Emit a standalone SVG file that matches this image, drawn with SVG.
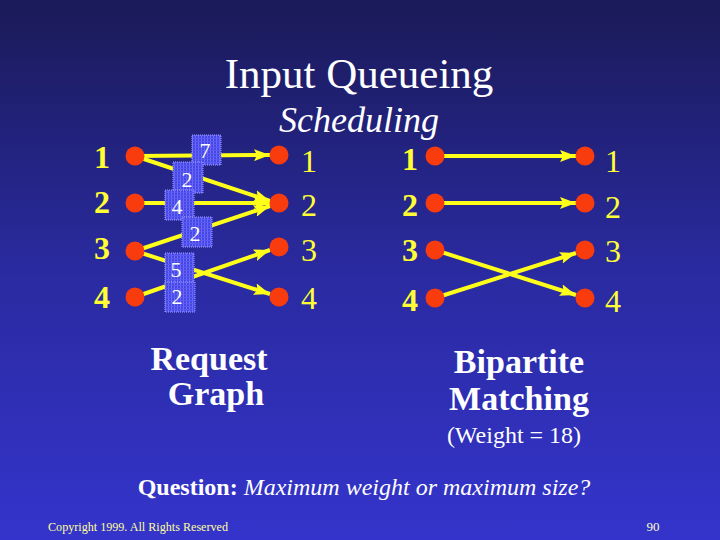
<svg xmlns="http://www.w3.org/2000/svg" width="720" height="540" viewBox="0 0 720 540">
<defs>
<linearGradient id="bg" x1="0" y1="0" x2="0" y2="1">
<stop offset="0" stop-color="#1a1a58"/>
<stop offset="0.5" stop-color="#2a2aa0"/>
<stop offset="1" stop-color="#3434cc"/>
</linearGradient>
<pattern id="stripe" width="3" height="3" patternUnits="userSpaceOnUse">
<rect width="3" height="3" fill="#4646e2"/>
<rect width="1" height="3" fill="#6c6cff"/>
<rect width="3" height="1" fill="#5a5af2"/>
</pattern>
<marker id="ah" viewBox="0 0 16 12" refX="16" refY="6" markerWidth="16" markerHeight="12" markerUnits="userSpaceOnUse" orient="auto">
<path d="M0,0 L16,6 L0,12 L3,6 Z" fill="#ffff1a"/>
</marker>
<style>
.num{font-family:"Liberation Serif",serif;font-size:32px;fill:#ffff33;text-anchor:middle}
.b{font-weight:bold}
.node{fill:#f83c0e}
.edge{stroke:#ffff1a;stroke-width:4;fill:none;marker-end:url(#ah)}
.wbox{fill:url(#stripe);stroke:#a0a0ff;stroke-width:1;stroke-dasharray:1 1}
.wt{font-family:"Liberation Serif",serif;font-size:22px;fill:#ffffff;text-anchor:middle}
.lbl{font-family:"Liberation Serif",serif;font-weight:bold;font-size:34px;fill:#ffffff;text-anchor:middle}
.w{font-family:"Liberation Serif",serif;fill:#ffffff}
</style>
</defs>
<rect width="720" height="540" fill="url(#bg)"/>
<text class="w" x="359" y="88" font-size="43" text-anchor="middle">Input Queueing</text>
<text class="w" x="359" y="132" font-size="36" font-style="italic" text-anchor="middle">Scheduling</text>

<g id="connectors">
<line class="edge" x1="135" y1="156" x2="270" y2="155"/>
<line class="edge" x1="135" y1="156" x2="270" y2="201"/>
<line class="edge" x1="135" y1="203" x2="270" y2="203"/>
<line class="edge" x1="135" y1="251" x2="270" y2="206"/>
<line class="edge" x1="135" y1="251" x2="270" y2="294"/>
<line class="edge" x1="135" y1="297" x2="270" y2="250"/>
<line class="edge" x1="435" y1="156" x2="576" y2="156"/>
<line class="edge" x1="435" y1="203" x2="576" y2="203"/>
<line class="edge" x1="435" y1="250" x2="576" y2="295"/>
<line class="edge" x1="435" y1="298" x2="576" y2="253"/>
</g>

<g id="weights">
<g id="w7"><rect class="wbox" x="192" y="135" width="29" height="30"/><text class="wt" x="205" y="158">7</text></g>
<g id="w2a"><rect class="wbox" x="173" y="162" width="30" height="31"/><text class="wt" x="187" y="187">2</text></g>
<g id="w4"><rect class="wbox" x="165" y="190" width="29" height="30"/><text class="wt" x="177" y="214">4</text></g>
<g id="w2b"><rect class="wbox" x="182" y="217" width="30" height="30"/><text class="wt" x="195" y="241">2</text></g>
<g id="w5"><rect class="wbox" x="165" y="253" width="29" height="30"/><text class="wt" x="176" y="277">5</text></g>
<g id="w2c"><rect class="wbox" x="165" y="282" width="30" height="30"/><text class="wt" x="177" y="304">2</text></g>
</g>

<g id="request-graph">
<g id="rg-in1"><circle class="node" cx="135" cy="156" r="9.5"/><text class="num b" x="102" y="168">1</text></g>
<g id="rg-in2"><circle class="node" cx="135" cy="203" r="9.5"/><text class="num b" x="102" y="213">2</text></g>
<g id="rg-in3"><circle class="node" cx="135" cy="251" r="9.5"/><text class="num b" x="102" y="259">3</text></g>
<g id="rg-in4"><circle class="node" cx="135" cy="297" r="9.5"/><text class="num b" x="102" y="308">4</text></g>
<g id="rg-out1"><circle class="node" cx="279" cy="155" r="9.5"/><text class="num" x="309" y="172">1</text></g>
<g id="rg-out2"><circle class="node" cx="279" cy="203" r="9.5"/><text class="num" x="309" y="216">2</text></g>
<g id="rg-out3"><circle class="node" cx="279" cy="247" r="9.5"/><text class="num" x="309" y="261">3</text></g>
<g id="rg-out4"><circle class="node" cx="279" cy="297" r="9.5"/><text class="num" x="309" y="309">4</text></g>
</g>

<g id="bipartite">
<g id="bm-in1"><circle class="node" cx="435" cy="156" r="9.5"/><text class="num b" x="410" y="170">1</text></g>
<g id="bm-in2"><circle class="node" cx="435" cy="203" r="9.5"/><text class="num b" x="410" y="216">2</text></g>
<g id="bm-in3"><circle class="node" cx="435" cy="250" r="9.5"/><text class="num b" x="410" y="261">3</text></g>
<g id="bm-in4"><circle class="node" cx="435" cy="298" r="9.5"/><text class="num b" x="410" y="311">4</text></g>
<g id="bm-out1"><circle class="node" cx="585" cy="156" r="9.5"/><text class="num" x="613" y="172">1</text></g>
<g id="bm-out2"><circle class="node" cx="585" cy="203" r="9.5"/><text class="num" x="613" y="218">2</text></g>
<g id="bm-out3"><circle class="node" cx="585" cy="250" r="9.5"/><text class="num" x="613" y="262">3</text></g>
<g id="bm-out4"><circle class="node" cx="585" cy="298" r="9.5"/><text class="num" x="613" y="312">4</text></g>
</g>

<text class="lbl" x="209" y="370">Request</text>
<text class="lbl" x="216" y="405">Graph</text>
<text class="lbl" x="519" y="373">Bipartite</text>
<text class="lbl" x="519" y="410">Matching</text>
<text class="w" x="514" y="443" font-size="24" text-anchor="middle">(Weight = 18)</text>
<text class="w" x="364" y="495" font-size="24" text-anchor="middle"><tspan font-weight="bold">Question: </tspan><tspan font-style="italic">Maximum weight or maximum size?</tspan></text>
<text x="48" y="531" font-family="Liberation Serif,serif" font-size="13" fill="#ffff99" textLength="180" lengthAdjust="spacingAndGlyphs">Copyright 1999. All Rights Reserved</text>
<text x="653" y="531" font-family="Liberation Serif,serif" font-size="13" fill="#ffffcc" text-anchor="middle">90</text>
</svg>
